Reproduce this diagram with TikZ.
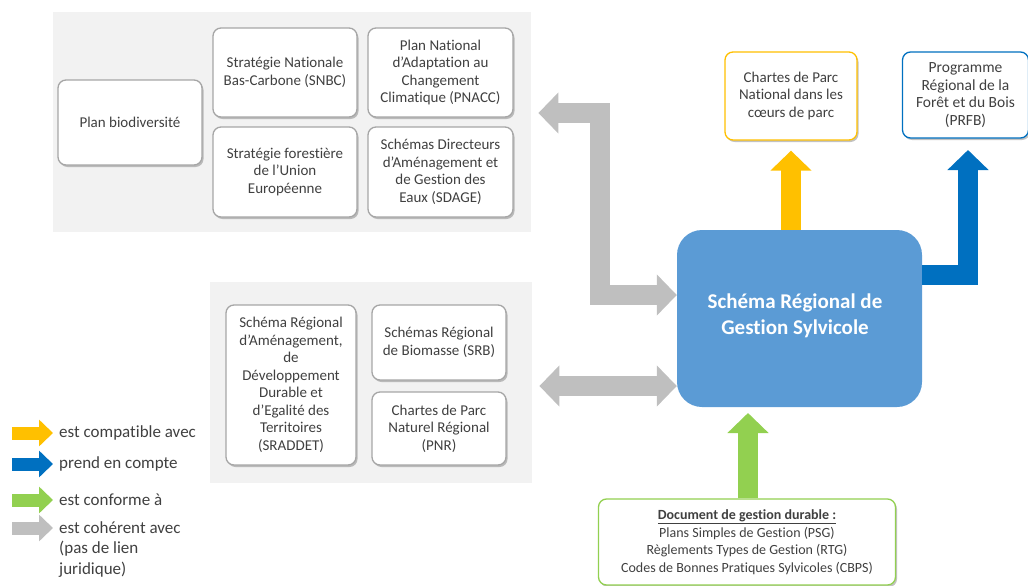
\documentclass[tikz,border=0pt]{standalone}
\usepackage{fontspec}
\setmainfont{Carlito}[Ligatures=NoCommon]
\usetikzlibrary{arrows.meta,shadows,calc}

\definecolor{boxtext}{HTML}{404040}
\definecolor{boxline}{HTML}{A6A6A6}
\definecolor{panelfill}{HTML}{F2F2F2}
\definecolor{srgsblue}{HTML}{5B9BD5}
\definecolor{compatcol}{HTML}{FFC000}
\definecolor{prisecol}{HTML}{0070C0}
\definecolor{conformecol}{HTML}{92D050}
\definecolor{coherecol}{HTML}{BFBFBF}

\tikzset{
  panel/.style={fill=panelfill, inner sep=0pt, anchor=north west},
  docbox/.style={draw=boxline, line width=1.3pt, fill=white, rounded corners=8pt,
    align=center, text=boxtext, font=\fontsize{15}{17.5}\selectfont, inner sep=2pt,
    drop shadow={shadow xshift=1.5pt, shadow yshift=-2pt, opacity=.4, fill=black!60}},
  legtext/.style={anchor=west, inner sep=0pt, text=boxtext,
    font=\fontsize{17}{20.5}\selectfont, align=left},
  fat/.style={line width=20pt, line join=miter, line cap=butt},
  compat/.style={fat, draw=compatcol, -{Triangle[width=40pt,length=20pt]}},
  prise/.style={fat, draw=prisecol, -{Triangle[width=40pt,length=20pt]}},
  conforme/.style={fat, draw=conformecol, -{Triangle[width=40pt,length=20pt]}},
  cohere/.style={fat, draw=coherecol, {Triangle[width=40pt,length=20pt]}-{Triangle[width=40pt,length=20pt]}},
  legarrow/.style={line width=13pt, -{Triangle[width=26pt,length=14pt]}},
}

\begin{document}
\begin{tikzpicture}[x=1pt, y=-1pt]
  \useasboundingbox (0,0) rectangle (1028,586);

  % panels
  \node[panel, minimum width=478pt, minimum height=220pt] (nat) at (53,12) {};
  \node[panel, minimum width=322pt, minimum height=201pt] (reg) at (210,282) {};

  % plans nationaux
  \node[docbox, minimum width=144pt, minimum height=85pt] (biodiv) at (130,122.5) {Plan biodiversité};
  \node[docbox, minimum width=144pt, minimum height=89pt] (snbc) at (285,72.5)
    {Stratégie Nationale\\Bas-Carbone (SNBC)};
  \node[docbox, minimum width=145pt, minimum height=89pt] (pnacc) at (440.5,72.5)
    {Plan National\\d’Adaptation au\\Changement\\Climatique (PNACC)};
  \node[docbox, minimum width=144pt, minimum height=90pt] (ue) at (285,172)
    {Stratégie forestière\\de l’Union\\Européenne};
  \node[docbox, minimum width=145pt, minimum height=90pt] (sdage) at (440.5,172)
    {Schémas Directeurs\\d’Aménagement et\\de Gestion des\\Eaux (SDAGE)};

  % plans regionaux
  \node[docbox, minimum width=130pt, minimum height=160pt] (sraddet) at (291,385)
    {Schéma Régional\\d’Aménagement,\\de\\Développement\\Durable et\\d’Egalité des\\Territoires\\(SRADDET)};
  \node[docbox, minimum width=134pt, minimum height=75pt] (srb) at (439,342.5)
    {Schémas Régional\\de Biomasse (SRB)};
  \node[docbox, minimum width=134pt, minimum height=73pt] (pnr) at (439,428.5)
    {Chartes de Parc\\Naturel Régional\\(PNR)};

  % schema central
  \node[fill=srgsblue, rounded corners=25pt, minimum width=245pt, minimum height=177pt]
    (srgs) at (799.5,318.5) {};
  \node[text=white, align=center, font=\bfseries\fontsize{21}{26}\selectfont]
    (srgstext) at (795,316) {Schéma Régional de\\Gestion Sylvicole};

  % documents en haut
  \node[docbox, draw=compatcol, minimum width=132pt, minimum height=88pt] (pn) at (791,96)
    {Chartes de Parc\\National dans les\\cœurs de parc};
  \node[docbox, draw=prisecol, minimum width=126pt, minimum height=86pt,
    font=\fontsize{15.5}{17.5}\selectfont] (prfb) at (965.5,95)
    {Programme\\Régional de la\\Forêt et du Bois\\(PRFB)};

  % documents de gestion durable
  \node[docbox, draw=conformecol, minimum width=297pt, minimum height=86pt,
    font=\fontsize{14}{17.5}\selectfont] (dgd) at (747,542)
    {\textbf{\underline{Document de gestion durable :}}\\Plans Simples de Gestion (PSG)\\Règlements Types de Gestion (RTG)\\Codes de Bonnes Pratiques Sylvicoles (CBPS)};

  % fleches
  \draw[compat] (srgs.north -| pn.south) -- ([yshift=-10pt]pn.south);
  \draw[prise] (srgs.east |- 0,275) -| (968,150);
  \draw[conforme] (dgd.north -| 748,0) -- (748,413);
  \draw[cohere] (srgs.west |- 0,295) -| (600,113) -- ([xshift=7pt]nat.east |- 0,113);
  \draw[cohere] (srgs.west |- 0,386) -- ([xshift=7pt]reg.east |- 0,386);

  % legende
  \node[legtext] (lcompat) at (59,433) {est compatible avec};
  \node[legtext] (lprise) at (59,464) {prend en compte};
  \node[legtext] (lconforme) at (59,500) {est conforme à};
  \node[legtext, anchor=north west] (lcohere) at (59,521) {est cohérent avec\\(pas de lien\\juridique)};
  \draw[legarrow, compatcol] ([xshift=-47pt]lcompat.west) -- ([xshift=-6pt]lcompat.west);
  \draw[legarrow, prisecol] ([xshift=-47pt]lprise.west) -- ([xshift=-6pt]lprise.west);
  \draw[legarrow, conformecol] ([xshift=-47pt]lconforme.west) -- ([xshift=-6pt]lconforme.west);
  \draw[legarrow, coherecol] ($(lcohere.north west)+(-47,7)$) -- ($(lcohere.north west)+(-6,7)$);
\end{tikzpicture}
\end{document}
